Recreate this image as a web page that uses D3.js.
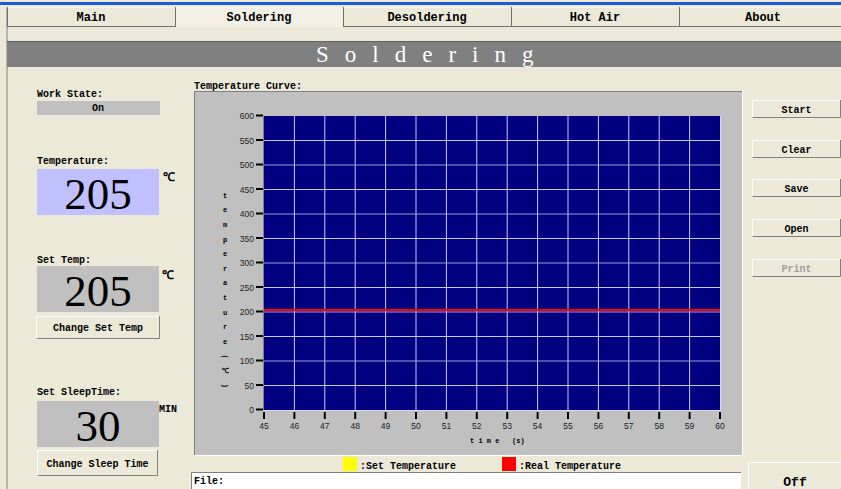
<!DOCTYPE html>
<html>
<head>
<meta charset="utf-8">
<script src="https://cdn.jsdelivr.net/npm/d3@7"></script>
<style>
  body { margin: 0; background: #ECE9D8; }
  svg { display: block; }
  .ui { font-family: "Liberation Mono", "DejaVu Sans Mono", monospace; font-weight: bold; fill: #000; }
  .tick-lbl { font-family: "Liberation Sans", "DejaVu Sans", sans-serif; font-size: 8.5px; fill: #222; }
</style>
</head>
<body>
<div id="chart"></div>
<script>
// --- data ---
const tabs = ['Main', 'Soldering', 'Desoldering', 'Hot Air', 'About'];
const activeTab = 'Soldering';
const timeTicks = [45, 46, 47, 48, 49, 50, 51, 52, 53, 54, 55, 56, 57, 58, 59, 60];
const tempTicks = [0, 50, 100, 150, 200, 250, 300, 350, 400, 450, 500, 550, 600];
const setTemp = [205, 205, 205, 205, 205, 205, 205, 205, 205, 205, 205, 205, 205, 205, 205, 205];
const realTemp = [205, 205, 205, 205, 205, 205, 205, 205, 205, 205, 205, 205, 205, 205, 205, 205];
const yLabelChars = ['t', 'e', 'm', 'p', 'e', 'r', 'a', 't', 'u', 'r', 'e', '(', '℃', ')'];
const sideButtons = ['Start', 'Clear', 'Save', 'Open', 'Print'];
const legendItems = [{ label: ':Set Temperature', color: '#FFFF00' }, { label: ':Real Temperature', color: '#FF0000' }];

const W = 841, H = 489;
const svg = d3.select('#chart').append('svg').attr('width', W).attr('height', H);

// window frame
svg.append('rect').attr('x', 0).attr('y', 0).attr('width', W).attr('height', H).attr('fill', '#ECE9D8');
svg.append('rect').attr('x', 0).attr('y', 2).attr('width', W).attr('height', 3).attr('fill', '#1C5BD8');
svg.append('line').attr('x1', 7).attr('x2', 7).attr('y1', 8).attr('y2', H).attr('stroke', '#808080');

// --- tabs ---
const tabX = d3.scaleBand().domain(tabs).range([7, 847]);
const tabG = svg.append('g');
tabG.append('line').attr('x1', 7).attr('x2', W).attr('y1', 8).attr('y2', 8).attr('stroke', '#fff');
tabs.forEach(t => {
  const x0 = tabX(t), w = tabX.bandwidth();
  const active = t === activeTab;
  tabG.append('rect').attr('x', x0).attr('y', 8).attr('width', w).attr('height', 19)
    .attr('fill', active ? '#F2F0E4' : '#ECE9D8');
  tabG.append('line').attr('x1', x0 + 0.5).attr('x2', x0 + 0.5).attr('y1', 7).attr('y2', 27).attr('stroke', '#707070');
  if (!active) {
    tabG.append('line').attr('x1', x0).attr('x2', x0 + w).attr('y1', 26.5).attr('y2', 26.5).attr('stroke', '#707070');
  }
  tabG.append('text').attr('class', 'ui').attr('x', x0 + w / 2).attr('y', 21)
    .attr('text-anchor', 'middle').attr('font-size', 12).attr('font-weight', active ? 'normal' : 'bold').text(t);
});

// --- title bar ---
svg.append('rect').attr('x', 7).attr('y', 41).attr('width', W - 7).attr('height', 26).attr('fill', '#808080');
svg.append('line').attr('x1', 7).attr('x2', W).attr('y1', 41.5).attr('y2', 41.5).attr('stroke', '#606060');
svg.append('text').attr('x', 316).attr('y', 62).attr('fill', '#fff')
  .attr('font-family', '"Liberation Serif", "DejaVu Serif", serif').attr('font-size', 23)
  .attr('letter-spacing', 16).text('Soldering');

// --- left panel ---
function label(x, y, t, size) {
  return svg.append('text').attr('class', 'ui').attr('x', x).attr('y', y).attr('font-size', size || 10).text(t);
}
function button(x, y, w, h, t, disabled, size) {
  const g = svg.append('g');
  g.append('rect').attr('x', x).attr('y', y).attr('width', w).attr('height', h).attr('fill', '#ECE9D8');
  g.append('path').attr('d', `M${x + 0.5},${y + h}V${y + 0.5}H${x + w}`).attr('stroke', '#fff').attr('fill', 'none');
  g.append('path').attr('d', `M${x + 0.5},${y + h - 0.5}H${x + w - 0.5}V${y}`).attr('stroke', '#808080').attr('fill', 'none');
  g.append('text').attr('class', 'ui').attr('x', x + w / 2).attr('y', y + h / 2 + 3.5)
    .attr('text-anchor', 'middle').attr('font-size', size || 10)
    .style('fill', disabled ? '#A0A0A0' : '#000').text(t);
}
function bigBox(y, fill, value) {
  svg.append('rect').attr('x', 37).attr('y', y).attr('width', 122).attr('height', 46).attr('fill', fill);
  svg.append('text').attr('x', 98).attr('y', y + 40).attr('text-anchor', 'middle')
    .attr('font-family', '"Liberation Serif", "DejaVu Serif", serif').attr('font-size', 45).text(value);
}

label(37, 97, 'Work State:');
svg.append('rect').attr('x', 37).attr('y', 101).attr('width', 123).attr('height', 14).attr('fill', '#C0C0C0');
label(98, 111, 'On').attr('text-anchor', 'middle');

label(37, 164, 'Temperature:');
bigBox(169, '#C0C0FF', realTemp[realTemp.length - 1]);
label(163, 181, '℃', 12).attr('font-weight', 'normal');

label(37, 263, 'Set Temp:');
bigBox(266, '#C0C0C0', setTemp[setTemp.length - 1]);
label(162, 279, '℃', 12).attr('font-weight', 'normal');
button(36, 316, 124, 23, 'Change Set Temp');

label(37, 395, 'Set SleepTime:');
bigBox(401, '#C0C0C0', 30);
label(159, 412, 'MIN');
button(37, 450, 121, 26, 'Change Sleep Time');

// --- chart panel ---
label(194, 89, 'Temperature Curve:');
svg.append('rect').attr('x', 194).attr('y', 91).attr('width', 549).attr('height', 364).attr('fill', '#C0C0C0');
svg.append('path').attr('d', 'M194.5,455V91.5H743').attr('stroke', '#808080').attr('fill', 'none');
svg.append('path').attr('d', 'M194.5,455.5H742.5V91').attr('stroke', '#fff').attr('fill', 'none');

const x = d3.scaleLinear().domain([45, 60]).range([264, 720]);
const y = d3.scaleLinear().domain([0, 600]).range([410, 116]);

const plot = svg.append('g');
plot.append('rect').attr('x', x(45)).attr('y', y(600)).attr('width', x(60) - x(45)).attr('height', y(0) - y(600))
  .attr('fill', '#000080');

// grid
plot.selectAll('.vgrid').data(timeTicks.slice(1, -1)).enter().append('line')
  .attr('x1', d => x(d)).attr('x2', d => x(d)).attr('y1', y(600)).attr('y2', y(0))
  .attr('stroke', '#C8C8F0').attr('stroke-width', 1);
plot.selectAll('.hgrid').data(tempTicks.slice(1, -1)).enter().append('line')
  .attr('x1', x(45)).attr('x2', x(60)).attr('y1', d => y(d)).attr('y2', d => y(d))
  .attr('stroke', (d, i) => i % 2 ? '#9C9CD8' : '#C8C8F0').attr('stroke-width', 1);
plot.append('path').attr('d', `M${x(45) - 0.5},${y(600)}V${y(0) + 0.5}H${x(60) + 0.5}V${y(600)}`)
  .attr('stroke', '#D8D8F4').attr('fill', 'none');
plot.append('line').attr('x1', x(45) - 0.5).attr('x2', x(45) - 0.5).attr('y1', y(600)).attr('y2', y(0))
  .attr('stroke', '#808080');

// series (real temperature drawn on top of the set temperature)
const line = d3.line().x((d, i) => x(timeTicks[i])).y(d => Math.round(y(d)));
plot.append('path').datum(setTemp).attr('d', line).attr('stroke', '#FFFF00').attr('stroke-width', 2)
  .attr('fill', 'none').attr('shape-rendering', 'crispEdges');
plot.append('path').datum(realTemp).attr('d', line).attr('stroke', '#FF0000').attr('stroke-width', 2)
  .attr('fill', 'none').attr('shape-rendering', 'crispEdges');

// y axis
const yAx = svg.append('g');
yAx.selectAll('line').data(tempTicks).enter().append('line')
  .attr('x1', 256).attr('x2', 263).attr('y1', d => y(d) - 0.5).attr('y2', d => y(d) - 0.5)
  .attr('stroke', '#000').attr('stroke-width', 2);
yAx.selectAll('text').data(tempTicks).enter().append('text').attr('class', 'tick-lbl')
  .attr('x', 254).attr('y', d => y(d) + 3).attr('text-anchor', 'end').text(d => d);

// x axis
const xAx = svg.append('g');
xAx.selectAll('line').data(timeTicks).enter().append('line')
  .attr('x1', d => x(d)).attr('x2', d => x(d)).attr('y1', 412).attr('y2', 419)
  .attr('stroke', '#000').attr('stroke-width', 2);
xAx.selectAll('text').data(timeTicks).enter().append('text').attr('class', 'tick-lbl')
  .attr('x', d => x(d)).attr('y', 429).attr('text-anchor', 'middle').text(d => d);

// axis titles
svg.append('text').attr('x', 470).attr('y', 443).attr('font-family', '"Liberation Mono", monospace')
  .attr('font-size', 7).attr('font-weight', 'bold').attr('xml:space', 'preserve').text('t i m e   (s)');
const yl = svg.append('g').attr('font-family', '"Liberation Mono", monospace').attr('font-size', 7).attr('font-weight', 'bold');
yLabelChars.forEach((c, i) => {
  const cy = 196 + i * 14.6;
  const t = yl.append('text').attr('x', 225).attr('y', cy).attr('text-anchor', 'middle').attr('dominant-baseline', 'middle').text(c);
  if (c === '(' || c === ')') t.attr('transform', `rotate(90,225,${cy})`);
});

// legend
const lg = svg.append('g');
legendItems.forEach((d, i) => {
  const lx = 343 + i * 159;
  lg.append('rect').attr('x', lx).attr('y', 457).attr('width', 14).attr('height', 14).attr('fill', d.color);
  lg.append('text').attr('class', 'ui').attr('x', lx + 17).attr('y', 469).attr('font-size', 10).text(d.label);
});

// file box
svg.append('rect').attr('x', 191).attr('y', 472).attr('width', 550).attr('height', 20).attr('fill', '#fff');
svg.append('path').attr('d', 'M191.5,489V472.5H741').attr('stroke', '#808080').attr('fill', 'none');
label(194, 484, 'File:');

// right buttons
const btnTops = { Start: 100, Clear: 140, Save: 179, Open: 219, Print: 259 };
sideButtons.forEach(b => button(752, btnTops[b], 89, 18, b, b === 'Print'));

// Off button
button(748, 462, 95, 30, '', false);
label(795, 486, 'Off', 13).attr('text-anchor', 'middle');
</script>
</body>
</html>
